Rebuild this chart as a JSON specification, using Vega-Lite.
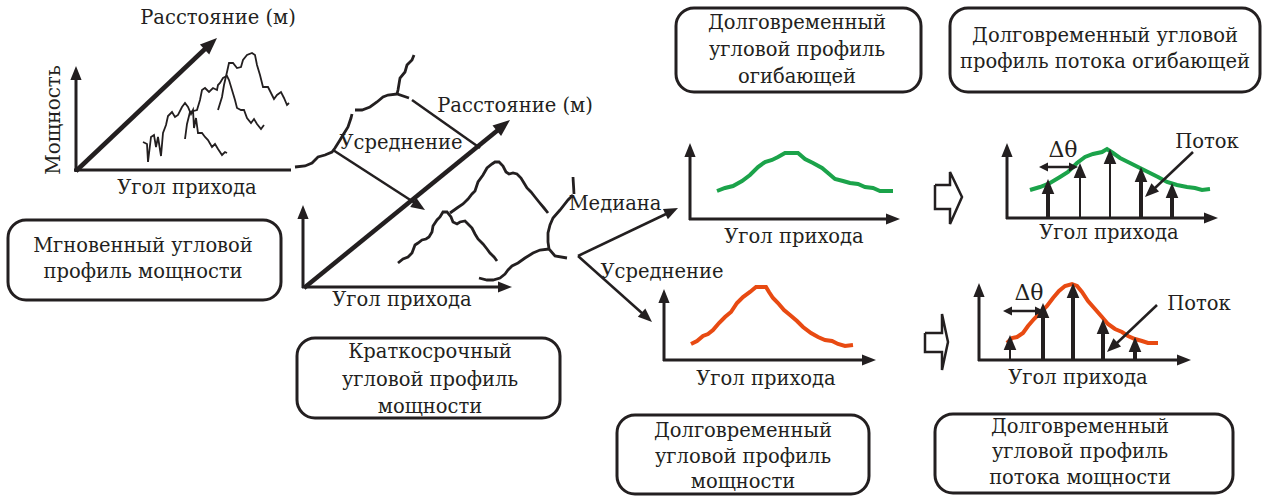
{
"$schema":"https://vega.github.io/schema/vega-lite/v6.json",
"width":1272,"height":497,"autosize":{"type":"fit","contains":"padding"},"padding":0,"background":"white",
"config":{"view":{"stroke":null},"font":"DejaVu Serif"},
"encoding":{
 "x":{"field":"x","type":"quantitative","scale":{"domain":[0,1272],"nice":false,"zero":false},"axis":null},
 "y":{"field":"y","type":"quantitative","scale":{"domain":[0,497],"nice":false,"zero":false,"reverse":true},"axis":null}
},
"datasets":{
"boxes":[
 {"x0":8,"y0":220,"x1":281,"y1":300},
 {"x0":297,"y0":338,"x1":560,"y1":418},
 {"x0":617,"y0":415,"x1":869,"y1":494},
 {"x0":935,"y0":414,"x1":1233,"y1":493},
 {"x0":676,"y0":8,"x1":921,"y1":92},
 {"x0":950,"y0":8,"x1":1260,"y1":92}
],
"axes":[
 {"id":"p1v","x":76,"y":172},{"id":"p1v","x":76,"y":78},
 {"id":"p1h","x":74,"y":170},{"id":"p1h","x":291,"y":170},
 {"id":"p2v","x":303,"y":288},{"id":"p2v","x":303,"y":217},
 {"id":"p2h","x":302,"y":287},{"id":"p2h","x":500,"y":287},
 {"id":"p3v","x":690,"y":220},{"id":"p3v","x":690,"y":155},
 {"id":"p3h","x":689,"y":219},{"id":"p3h","x":888,"y":219},
 {"id":"p4v","x":664,"y":361},{"id":"p4v","x":664,"y":301},
 {"id":"p4h","x":663,"y":360},{"id":"p4h","x":864,"y":360},
 {"id":"p5v","x":1007,"y":219},{"id":"p5v","x":1007,"y":155},
 {"id":"p5h","x":1006,"y":218},{"id":"p5h","x":1206,"y":218},
 {"id":"p6v","x":979,"y":361},{"id":"p6v","x":979,"y":295},
 {"id":"p6h","x":978,"y":360},{"id":"p6h","x":1179,"y":360}
],
"heavy":[
 {"id":"d1","x":76,"y":171},{"id":"d1","x":206,"y":48},
 {"id":"d2","x":304,"y":288},{"id":"d2","x":498,"y":130}
],
"pointers":[
 {"id":"a1","x":333,"y":150},{"id":"a1","x":415,"y":203},
 {"id":"lk","x":412,"y":100},{"id":"lk","x":480,"y":148},
 {"id":"md","x":578,"y":256},{"id":"md","x":666,"y":214},
 {"id":"a2","x":578,"y":256},{"id":"a2","x":643,"y":314},
 {"id":"t1","x":1193,"y":152},{"id":"t1","x":1155,"y":188},
 {"id":"t2","x":1157,"y":305},{"id":"t2","x":1117,"y":343},
 {"id":"q1","x":1044,"y":167},{"id":"q1","x":1073,"y":167},
 {"id":"q2","x":1008,"y":311},{"id":"q2","x":1039,"y":311}
],
"stemsThick":[
 {"id":"s1","x":1048,"y":218},{"id":"s1","x":1048,"y":190},
 {"id":"s4","x":1141,"y":218},{"id":"s4","x":1141,"y":178},
 {"id":"s5","x":1172,"y":218},{"id":"s5","x":1172,"y":194},
 {"id":"r2","x":1043,"y":360},{"id":"r2","x":1043,"y":314},
 {"id":"r3","x":1073,"y":360},{"id":"r3","x":1073,"y":294},
 {"id":"r4","x":1103,"y":360},{"id":"r4","x":1103,"y":330},
 {"id":"r5","x":1135,"y":360},{"id":"r5","x":1135,"y":348}
],
"stemsThin":[
 {"id":"s2","x":1080,"y":218},{"id":"s2","x":1080,"y":174},
 {"id":"s3","x":1110,"y":218},{"id":"s3","x":1110,"y":160},
 {"id":"r1","x":1010,"y":360},{"id":"r1","x":1010,"y":346}
],
"traces":[
 {"id":"A","x":143,"y":142},{"id":"A","x":147,"y":144},{"id":"A","x":148,"y":162},{"id":"A","x":151,"y":137},{"id":"A","x":154,"y":135},{"id":"A","x":156,"y":147},{"id":"A","x":158,"y":137},{"id":"A","x":161,"y":156},{"id":"A","x":163,"y":133},{"id":"A","x":166,"y":125},{"id":"A","x":168,"y":116},{"id":"A","x":172,"y":112},{"id":"A","x":175,"y":117},{"id":"A","x":178,"y":115},{"id":"A","x":182,"y":107},{"id":"A","x":185,"y":103},{"id":"A","x":188,"y":107},{"id":"A","x":191,"y":114},{"id":"A","x":193,"y":110},{"id":"A","x":194,"y":128},{"id":"A","x":196,"y":118},{"id":"A","x":198,"y":133},{"id":"A","x":202,"y":133},{"id":"A","x":205,"y":137},{"id":"A","x":208,"y":140},{"id":"A","x":212,"y":147},{"id":"A","x":215,"y":144},{"id":"A","x":218,"y":149},{"id":"A","x":222,"y":155},{"id":"A","x":225,"y":152},{"id":"A","x":227,"y":153},
 {"id":"B","x":185,"y":139},{"id":"B","x":187,"y":124},{"id":"B","x":190,"y":112},{"id":"B","x":197,"y":110},{"id":"B","x":200,"y":100},{"id":"B","x":202,"y":90},{"id":"B","x":205,"y":88},{"id":"B","x":209,"y":92},{"id":"B","x":213,"y":88},{"id":"B","x":217,"y":90},{"id":"B","x":218,"y":85},{"id":"B","x":220,"y":83},{"id":"B","x":223,"y":78},{"id":"B","x":227,"y":76},{"id":"B","x":229,"y":80},{"id":"B","x":232,"y":90},{"id":"B","x":235,"y":100},{"id":"B","x":237,"y":108},{"id":"B","x":241,"y":110},{"id":"B","x":244,"y":110},{"id":"B","x":247,"y":118},{"id":"B","x":251,"y":123},{"id":"B","x":254,"y":119},{"id":"B","x":257,"y":124},{"id":"B","x":261,"y":129},{"id":"B","x":264,"y":125},
 {"id":"C","x":218,"y":110},{"id":"C","x":222,"y":97},{"id":"C","x":224,"y":85},{"id":"C","x":227,"y":72},{"id":"C","x":229,"y":63},{"id":"C","x":233,"y":63},{"id":"C","x":237,"y":68},{"id":"C","x":241,"y":67},{"id":"C","x":243,"y":60},{"id":"C","x":247,"y":55},{"id":"C","x":252,"y":53},{"id":"C","x":255,"y":55},{"id":"C","x":257,"y":65},{"id":"C","x":260,"y":75},{"id":"C","x":263,"y":87},{"id":"C","x":268,"y":87},{"id":"C","x":271,"y":93},{"id":"C","x":274,"y":99},{"id":"C","x":277,"y":95},{"id":"C","x":281,"y":92},{"id":"C","x":284,"y":98},{"id":"C","x":287,"y":105},{"id":"C","x":289,"y":103}
],
"ridges":[
 {"id":"F","x":398,"y":263},{"id":"F","x":403,"y":259},{"id":"F","x":408,"y":257},{"id":"F","x":412,"y":253},{"id":"F","x":415,"y":245},{"id":"F","x":418,"y":243},{"id":"F","x":422,"y":240},{"id":"F","x":426,"y":239},{"id":"F","x":429,"y":237},{"id":"F","x":432,"y":232},{"id":"F","x":433,"y":226},{"id":"F","x":437,"y":220},{"id":"F","x":440,"y":217},{"id":"F","x":443,"y":212},{"id":"F","x":447,"y":212},{"id":"F","x":451,"y":217},{"id":"F","x":453,"y":222},{"id":"F","x":457,"y":224},{"id":"F","x":460,"y":222},{"id":"F","x":465,"y":221},{"id":"F","x":468,"y":224},{"id":"F","x":472,"y":228},{"id":"F","x":475,"y":234},{"id":"F","x":478,"y":239},{"id":"F","x":483,"y":244},{"id":"F","x":487,"y":249},{"id":"F","x":490,"y":253},{"id":"F","x":494,"y":257},{"id":"F","x":497,"y":261},
 {"id":"K","x":450,"y":213},{"id":"K","x":457,"y":208},{"id":"K","x":463,"y":204},{"id":"K","x":468,"y":199},{"id":"K","x":472,"y":194},{"id":"K","x":475,"y":191},{"id":"K","x":478,"y":182},{"id":"K","x":483,"y":175},{"id":"K","x":487,"y":168},{"id":"K","x":492,"y":164},{"id":"K","x":495,"y":162},{"id":"K","x":499,"y":162},{"id":"K","x":503,"y":166},{"id":"K","x":506,"y":172},{"id":"K","x":509,"y":174},{"id":"K","x":513,"y":173},{"id":"K","x":517,"y":174},{"id":"K","x":521,"y":178},{"id":"K","x":524,"y":183},{"id":"K","x":527,"y":188},{"id":"K","x":531,"y":192},{"id":"K","x":535,"y":197},{"id":"K","x":539,"y":202},{"id":"K","x":544,"y":208},{"id":"K","x":548,"y":213},
 {"id":"L1","x":295,"y":167},{"id":"L1","x":305,"y":166},{"id":"L1","x":312,"y":163},{"id":"L1","x":318,"y":157},{"id":"L1","x":325,"y":155},{"id":"L1","x":332,"y":152},{"id":"L1","x":335,"y":148},{"id":"L1","x":340,"y":140},{"id":"L1","x":343,"y":135},{"id":"L1","x":348,"y":127},{"id":"L1","x":351,"y":118},{"id":"L1","x":352,"y":114},
 {"id":"L2","x":355,"y":110},{"id":"L2","x":362,"y":110},{"id":"L2","x":370,"y":107},{"id":"L2","x":377,"y":102},{"id":"L2","x":383,"y":97},{"id":"L2","x":388,"y":95},{"id":"L2","x":397,"y":94},{"id":"L2","x":409,"y":98},
 {"id":"L3","x":397,"y":94},{"id":"L3","x":398,"y":90},{"id":"L3","x":400,"y":78},{"id":"L3","x":405,"y":72},{"id":"L3","x":407,"y":65},{"id":"L3","x":412,"y":60},{"id":"L3","x":414,"y":55},
 {"id":"R1","x":573,"y":177},{"id":"R1","x":574,"y":194},
 {"id":"R2","x":573,"y":195},{"id":"R2","x":568,"y":200},{"id":"R2","x":560,"y":210},{"id":"R2","x":553,"y":218},{"id":"R2","x":550,"y":225},{"id":"R2","x":548,"y":233},{"id":"R2","x":548,"y":242},{"id":"R2","x":549,"y":249},{"id":"R2","x":555,"y":256},{"id":"R2","x":567,"y":258},
 {"id":"R3","x":549,"y":249},{"id":"R3","x":540,"y":250},{"id":"R3","x":533,"y":253},{"id":"R3","x":525,"y":258},{"id":"R3","x":518,"y":263},{"id":"R3","x":512,"y":266},{"id":"R3","x":508,"y":270},{"id":"R3","x":505,"y":274},{"id":"R3","x":500,"y":278},{"id":"R3","x":493,"y":280},{"id":"R3","x":487,"y":280},{"id":"R3","x":479,"y":278}
],
"blockArrows":[
 {"id":"b1","x":935,"y":185},{"id":"b1","x":950,"y":185},{"id":"b1","x":950,"y":172},{"id":"b1","x":962,"y":197},{"id":"b1","x":950,"y":224},{"id":"b1","x":950,"y":209},{"id":"b1","x":935,"y":209},{"id":"b1","x":935,"y":185},
 {"id":"b2","x":925,"y":333},{"id":"b2","x":942,"y":333},{"id":"b2","x":942,"y":314},{"id":"b2","x":948,"y":342},{"id":"b2","x":942,"y":370},{"id":"b2","x":942,"y":352},{"id":"b2","x":925,"y":352},{"id":"b2","x":925,"y":333}
],
"green":[
 {"id":"g1","x":717,"y":191},{"id":"g1","x":725,"y":188},{"id":"g1","x":733,"y":186},{"id":"g1","x":742,"y":181},{"id":"g1","x":750,"y":175},{"id":"g1","x":758,"y":167},{"id":"g1","x":765,"y":162},{"id":"g1","x":772,"y":160},{"id":"g1","x":778,"y":157},{"id":"g1","x":785,"y":153},{"id":"g1","x":793,"y":153},{"id":"g1","x":798,"y":153},{"id":"g1","x":805,"y":159},{"id":"g1","x":813,"y":163},{"id":"g1","x":822,"y":168},{"id":"g1","x":828,"y":173},{"id":"g1","x":835,"y":179},{"id":"g1","x":843,"y":181},{"id":"g1","x":850,"y":183},{"id":"g1","x":858,"y":184},{"id":"g1","x":865,"y":187},{"id":"g1","x":873,"y":188},{"id":"g1","x":880,"y":191},{"id":"g1","x":893,"y":191},
 {"id":"g2","x":1030,"y":190},{"id":"g2","x":1040,"y":187},{"id":"g2","x":1050,"y":183},{"id":"g2","x":1060,"y":177},{"id":"g2","x":1068,"y":172},{"id":"g2","x":1077,"y":163},{"id":"g2","x":1085,"y":157},{"id":"g2","x":1093,"y":154},{"id":"g2","x":1102,"y":152},{"id":"g2","x":1107,"y":149},{"id":"g2","x":1113,"y":153},{"id":"g2","x":1120,"y":158},{"id":"g2","x":1130,"y":163},{"id":"g2","x":1140,"y":168},{"id":"g2","x":1150,"y":173},{"id":"g2","x":1158,"y":177},{"id":"g2","x":1167,"y":182},{"id":"g2","x":1177,"y":185},{"id":"g2","x":1187,"y":187},{"id":"g2","x":1195,"y":188},{"id":"g2","x":1202,"y":190},{"id":"g2","x":1210,"y":189}
],
"orange":[
 {"id":"o1","x":691,"y":344},{"id":"o1","x":697,"y":341},{"id":"o1","x":703,"y":336},{"id":"o1","x":708,"y":334},{"id":"o1","x":713,"y":330},{"id":"o1","x":719,"y":323},{"id":"o1","x":725,"y":317},{"id":"o1","x":731,"y":312},{"id":"o1","x":737,"y":303},{"id":"o1","x":743,"y":297},{"id":"o1","x":750,"y":292},{"id":"o1","x":756,"y":287},{"id":"o1","x":766,"y":287},{"id":"o1","x":769,"y":292},{"id":"o1","x":773,"y":298},{"id":"o1","x":778,"y":303},{"id":"o1","x":784,"y":310},{"id":"o1","x":790,"y":315},{"id":"o1","x":797,"y":321},{"id":"o1","x":803,"y":327},{"id":"o1","x":811,"y":333},{"id":"o1","x":818,"y":337},{"id":"o1","x":825,"y":340},{"id":"o1","x":832,"y":341},{"id":"o1","x":838,"y":344},{"id":"o1","x":845,"y":346},{"id":"o1","x":853,"y":345},
 {"id":"o2","x":1007,"y":343},{"id":"o2","x":1012,"y":338},{"id":"o2","x":1017,"y":337},{"id":"o2","x":1023,"y":333},{"id":"o2","x":1028,"y":326},{"id":"o2","x":1034,"y":319},{"id":"o2","x":1040,"y":313},{"id":"o2","x":1047,"y":306},{"id":"o2","x":1053,"y":298},{"id":"o2","x":1059,"y":291},{"id":"o2","x":1065,"y":286},{"id":"o2","x":1072,"y":284},{"id":"o2","x":1077,"y":286},{"id":"o2","x":1082,"y":292},{"id":"o2","x":1088,"y":301},{"id":"o2","x":1095,"y":309},{"id":"o2","x":1102,"y":317},{"id":"o2","x":1108,"y":324},{"id":"o2","x":1115,"y":329},{"id":"o2","x":1122,"y":332},{"id":"o2","x":1128,"y":336},{"id":"o2","x":1135,"y":339},{"id":"o2","x":1142,"y":341},{"id":"o2","x":1148,"y":343},{"id":"o2","x":1158,"y":343}
],
"heads":[
 {"x":76,"y":66,"dir":0},{"x":303,"y":205,"dir":0},{"x":512,"y":287,"dir":90},
 {"x":690,"y":143,"dir":0},{"x":900,"y":219,"dir":90},
 {"x":664,"y":289,"dir":0},{"x":876,"y":360,"dir":90},
 {"x":1007,"y":143,"dir":0},{"x":1218,"y":218,"dir":90},
 {"x":979,"y":283,"dir":0},{"x":1191,"y":360,"dir":90},
 {"x":425,"y":210,"dir":123},{"x":678,"y":208,"dir":64},{"x":652,"y":322,"dir":132},
 {"x":1145,"y":197,"dir":227},{"x":1107,"y":352,"dir":227}
],
"bigHeads":[{"x":217,"y":38,"dir":47},{"x":510,"y":120,"dir":51}],
"stemHeads":[
 {"x":1048,"y":179,"dir":0},{"x":1080,"y":163,"dir":0},{"x":1110,"y":149,"dir":0},{"x":1141,"y":167,"dir":0},{"x":1172,"y":183,"dir":0},
 {"x":1010,"y":335,"dir":0},{"x":1043,"y":303,"dir":0},{"x":1073,"y":283,"dir":0},{"x":1103,"y":319,"dir":0},{"x":1135,"y":337,"dir":0}
],
"smallHeads":[{"x":1039,"y":167,"dir":270},{"x":1078,"y":167,"dir":90},{"x":1003,"y":311,"dir":270},{"x":1044,"y":311,"dir":90}],
"labels":[
 {"t":"Расстояние (м)","x":218,"y":18},
 {"t":"Угол прихода","x":187,"y":188},
 {"t":"Расстояние (м)","x":515,"y":106},
 {"t":"Усреднение","x":401,"y":143},
 {"t":"Угол прихода","x":402,"y":300},
 {"t":"Медиана","x":615,"y":204},
 {"t":"Угол прихода","x":794,"y":237},
 {"t":"Усреднение","x":662,"y":272},
 {"t":"Угол прихода","x":766,"y":379},
 {"t":"Угол прихода","x":1109,"y":233},
 {"t":"Поток","x":1207,"y":142},
 {"t":"Угол прихода","x":1078,"y":378},
 {"t":"Поток","x":1199,"y":304},
 {"t":"Мгновенный угловой","x":143,"y":246},
 {"t":"профиль мощности","x":143,"y":272},
 {"t":"Краткосрочный","x":430,"y":352},
 {"t":"угловой профиль","x":430,"y":380},
 {"t":"мощности","x":430,"y":407},
 {"t":"Долговременный","x":743,"y":431},
 {"t":"угловой профиль","x":743,"y":457},
 {"t":"мощности","x":743,"y":482},
 {"t":"Долговременный","x":1080,"y":427},
 {"t":"угловой профиль","x":1080,"y":452},
 {"t":"потока мощности","x":1080,"y":478},
 {"t":"Долговременный","x":797,"y":23},
 {"t":"угловой профиль","x":797,"y":50},
 {"t":"огибающей","x":797,"y":77},
 {"t":"Долговременный угловой","x":1105,"y":36},
 {"t":"профиль потока огибающей","x":1105,"y":62}
],
"greek":[{"t":"Δθ","x":1063,"y":150},{"t":"Δθ","x":1029,"y":293}],
"vlabels":[{"t":"Мощность","x":54,"y":120}]
},
"layer":[
 {"data":{"name":"boxes"},"mark":{"type":"rect","fill":"white","stroke":"#231f20","strokeWidth":3,"cornerRadius":18},
  "encoding":{"x":{"field":"x0","type":"quantitative","scale":{"domain":[0,1272],"nice":false,"zero":false},"axis":null},"x2":{"field":"x1"},
   "y":{"field":"y0","type":"quantitative","scale":{"domain":[0,497],"nice":false,"zero":false,"reverse":true},"axis":null},"y2":{"field":"y1"}}},
 {"data":{"name":"traces"},"mark":{"type":"line","color":"#231f20","strokeWidth":1.8},"encoding":{"detail":{"field":"id"},"order":{"value":null}}},
 {"data":{"name":"ridges"},"mark":{"type":"line","color":"#231f20","strokeWidth":2.8},"encoding":{"detail":{"field":"id"},"order":{"value":null}}},
 {"data":{"name":"green"},"mark":{"type":"line","color":"#1ba34a","strokeWidth":4},"encoding":{"detail":{"field":"id"},"order":{"value":null}}},
 {"data":{"name":"orange"},"mark":{"type":"line","color":"#e84a12","strokeWidth":4},"encoding":{"detail":{"field":"id"},"order":{"value":null}}},
 {"data":{"name":"axes"},"mark":{"type":"line","color":"#231f20","strokeWidth":3},"encoding":{"detail":{"field":"id"},"order":{"value":null}}},
 {"data":{"name":"heavy"},"mark":{"type":"line","color":"#231f20","strokeWidth":4.5},"encoding":{"detail":{"field":"id"},"order":{"value":null}}},
 {"data":{"name":"pointers"},"mark":{"type":"line","color":"#231f20","strokeWidth":2.5},"encoding":{"detail":{"field":"id"},"order":{"value":null}}},
 {"data":{"name":"stemsThick"},"mark":{"type":"line","color":"#231f20","strokeWidth":4},"encoding":{"detail":{"field":"id"},"order":{"value":null}}},
 {"data":{"name":"stemsThin"},"mark":{"type":"line","color":"#231f20","strokeWidth":2},"encoding":{"detail":{"field":"id"},"order":{"value":null}}},
 {"data":{"name":"blockArrows"},"mark":{"type":"line","color":"#231f20","strokeWidth":2.5},"encoding":{"detail":{"field":"id"},"order":{"value":null}}},
 {"data":{"name":"heads"},"mark":{"type":"point","shape":"M0,0L-0.4,1L0.4,1Z","filled":true,"color":"#231f20","opacity":1,"size":784,"strokeWidth":0},
  "encoding":{"angle":{"field":"dir","type":"quantitative","scale":{"domain":[0,360],"range":[0,360],"zero":false,"nice":false}}}},
 {"data":{"name":"bigHeads"},"mark":{"type":"point","shape":"M0,0L-0.4,1L0.4,1Z","filled":true,"color":"#231f20","opacity":1,"size":1156,"strokeWidth":0},
  "encoding":{"angle":{"field":"dir","type":"quantitative","scale":{"domain":[0,360],"range":[0,360],"zero":false,"nice":false}}}},
 {"data":{"name":"stemHeads"},"mark":{"type":"point","shape":"M0,0L-0.42,1L0.42,1Z","filled":true,"color":"#231f20","opacity":1,"size":900,"strokeWidth":0},
  "encoding":{"angle":{"field":"dir","type":"quantitative","scale":{"domain":[0,360],"range":[0,360],"zero":false,"nice":false}}}},
 {"data":{"name":"smallHeads"},"mark":{"type":"point","shape":"M0,0L-0.5,1L0.5,1Z","filled":true,"color":"#231f20","opacity":1,"size":324,"strokeWidth":0},
  "encoding":{"angle":{"field":"dir","type":"quantitative","scale":{"domain":[0,360],"range":[0,360],"zero":false,"nice":false}}}},
 {"data":{"name":"labels"},"mark":{"type":"text","align":"center","baseline":"middle","font":"DejaVu Serif","fontSize":19.5,"color":"#231f20"},"encoding":{"text":{"field":"t"}}},
 {"data":{"name":"greek"},"mark":{"type":"text","align":"center","baseline":"middle","font":"DejaVu Serif","fontSize":22,"color":"#231f20"},"encoding":{"text":{"field":"t"}}},
 {"data":{"name":"vlabels"},"mark":{"type":"text","align":"center","baseline":"middle","angle":270,"font":"DejaVu Serif","fontSize":20,"color":"#231f20"},"encoding":{"text":{"field":"t"}}}
]
}
